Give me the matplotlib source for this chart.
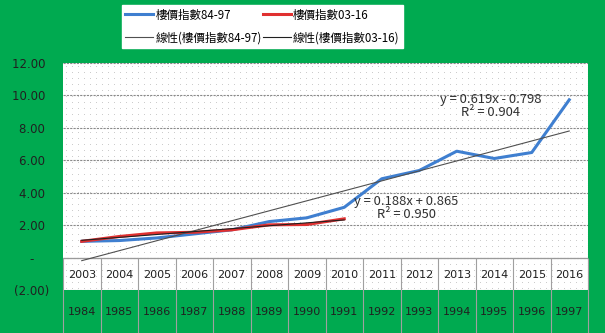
import numpy as np
import matplotlib.pyplot as plt
from matplotlib.font_manager import FontProperties

plt.rcParams['font.family'] = ['DejaVu Sans', 'Noto Sans CJK TC']
cjk = ['Noto Sans CJK TC', 'DejaVu Sans']

# Data
years_top = ['2003', '2004', '2005', '2006', '2007', '2008', '2009',
             '2010', '2011', '2012', '2013', '2014', '2015', '2016']
years_bottom = ['1984', '1985', '1986', '1987', '1988', '1989', '1990',
                '1991', '1992', '1993', '1994', '1995', '1996', '1997']
idx_84_97 = [1.00, 1.05, 1.21, 1.46, 1.71, 2.22, 2.45, 3.10, 4.86, 5.37,
             6.56, 6.11, 6.48, 9.73]
idx_03_16 = [1.00, 1.30, 1.52, 1.56, 1.71, 2.02, 2.04, 2.39]
name_a = '樓價指數84-97'
name_b = '樓價指數03-16'
eq_a = 'y = 0.619x - 0.798\nR² = 0.904'
eq_b = 'y = 0.188x + 0.865\nR² = 0.950'

green = '#00AA50'
fig = plt.figure(figsize=(6.05, 3.33), dpi=100, facecolor=green)
ax = fig.add_axes([63 / 605, 1 - 290 / 333, 525 / 605, 227 / 333])
ax.set_facecolor('white')

x_a = np.arange(1, len(idx_84_97) + 1)
x_b = np.arange(1, len(idx_03_16) + 1)

# faint dot pattern of the plot area (one grey pixel every 6 px)
pat = np.ones((227, 525, 3))
pat[3::6, 3::6] = 0.8
ax.imshow(pat, extent=(0, 1, 0, 1), transform=ax.transAxes, aspect='auto',
          interpolation='nearest', zorder=0)

# grid lines
for v in np.arange(-2, 13, 2):
    ax.axhline(v, color='#8a8a8a', lw=0.8, ls=(0, (2, 1)), zorder=1)
ax.axvline(len(x_a) + 0.5, color='#9a9a9a', lw=0.8, ls=(0, (1, 1)), zorder=1)
ax.axhline(0, color='#9a9a9a', lw=0.9, zorder=1)

# category separators
ax.vlines(np.arange(0.5, len(x_a) + 1, 1), 0, -4.8, color='#a0a0a0', lw=0.8,
          clip_on=False, zorder=1)

la, = ax.plot(x_a, idx_84_97, color='#3F7FD0', lw=2.2, label=name_a, zorder=3)
lb, = ax.plot(x_b, idx_03_16, color='#E03030', lw=2.2, label=name_b, zorder=3)

pa = np.polyfit(x_a, idx_84_97, 1)
pb = np.polyfit(x_b, idx_03_16, 1)
ta, = ax.plot(x_a, np.polyval(pa, x_a), color='#505050', lw=0.8,
              label='線性(' + name_a + ')', zorder=4)
tb, = ax.plot(x_b, np.polyval(pb, x_b), color='#202020', lw=0.8,
              label='線性(' + name_b + ')', zorder=4)

ax.text(11.9, 9.35, eq_a, ha='center', va='center', fontsize=9.3, family=cjk,
        color='#303030', linespacing=1.0, zorder=5)
ax.text(9.65, 3.06, eq_b, ha='center', va='center', fontsize=9.3, family=cjk,
        color='#303030', linespacing=1.0, zorder=5)

for i, lab in enumerate(years_top):
    ax.text(i + 1, -1.05, lab, ha='center', va='center', fontsize=8,
            color='#202020')

ax.set_xlim(0.5, len(x_a) + 0.5)
ax.set_ylim(-2, 12)
ax.set_xticks(x_a, years_bottom)
ax.tick_params(axis='x', length=0, pad=12, labelsize=8, labelcolor='#202020')
ax.set_yticks(np.arange(-2, 13, 2),
              ['(2.00)', '-    ', '2.00 ', '4.00 ', '6.00 ', '8.00 ',
               '10.00 ', '12.00 '])
ax.tick_params(axis='y', length=0, pad=10, labelsize=8.5, labelcolor='#202020')
for s in ax.spines.values():
    s.set_visible(False)

leg = fig.legend([la, ta, lb, tb],
                 [la.get_label(), ta.get_label(), lb.get_label(), tb.get_label()],
                 loc='upper left', bbox_to_anchor=(122 / 605, 1 - 5 / 333),
                 ncol=2, prop=FontProperties(family=cjk, size=8.3),
                 frameon=True, fancybox=False, edgecolor='white',
                 facecolor='white', framealpha=1, borderpad=0.3,
                 handlelength=2.4, handletextpad=0.2, columnspacing=0.1,
                 labelspacing=0.85, borderaxespad=0)

fig.savefig('out.png', dpi=100, facecolor=green)
